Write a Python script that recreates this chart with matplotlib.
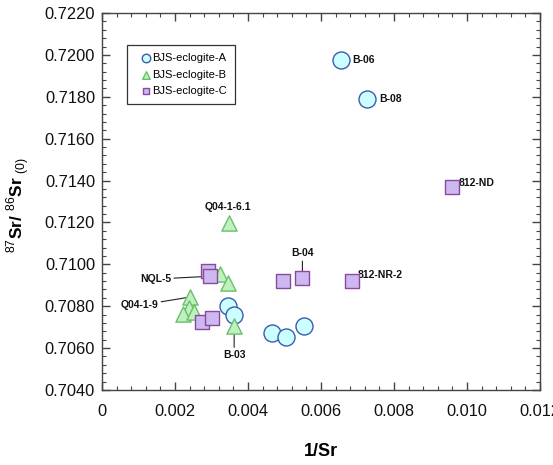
import matplotlib
matplotlib.use('Agg')
import matplotlib.pyplot as plt
from matplotlib.ticker import MultipleLocator, FuncFormatter

plt.rcParams['font.family'] = ['Liberation Sans', 'DejaVu Sans']
plt.rcParams['mathtext.fontset'] = 'custom'
plt.rcParams['mathtext.rm'] = 'Liberation Sans'
plt.rcParams['mathtext.bf'] = 'Liberation Sans:bold'

# 数据 (1/Sr, 87Sr/86Sr)
a_x = [0.00654, 0.00725, 0.00346, 0.00362, 0.00467, 0.00503, 0.00553]
a_y = [0.71976, 0.71788, 0.70801, 0.70758, 0.70674, 0.70655, 0.70707]
b_x = [0.00349, 0.00323, 0.00344, 0.00242, 0.00238, 0.00222, 0.00252, 0.00362]
b_y = [0.71199, 0.70954, 0.70912, 0.70844, 0.70792, 0.70763, 0.70772, 0.70706]
c_x = [0.00958, 0.00289, 0.00296, 0.00495, 0.00549, 0.00686, 0.00273, 0.00302]
c_y = [0.71368, 0.70968, 0.70943, 0.70920, 0.70933, 0.70920, 0.70723, 0.70742]
series_names = ['BJS-eclogite-A', 'BJS-eclogite-B', 'BJS-eclogite-C']

fig = plt.figure(figsize=(5.53, 4.65), dpi=100)
ax = fig.add_axes([0.1845, 0.1613, 0.792, 0.8107])

ax.scatter(a_x, a_y, s=150, marker='o', facecolor='#ccffff', edgecolor='#3a5bb0',
           linewidth=1.0, label=series_names[0], zorder=3)
ax.scatter(b_x, b_y, s=120, marker='^', facecolor='#bff0bf', edgecolor='#6abf6a',
           linewidth=1.0, label=series_names[1], zorder=4)
ax.scatter(c_x, c_y, s=90, marker='s', facecolor='#cdb8f2', edgecolor='#8a4a9a',
           linewidth=1.0, label=series_names[2], zorder=5)

# 样品标注
lab = dict(fontsize=7.5, fontweight='bold', color='#111111', va='center')
line = dict(arrowstyle='-', color='#222222', lw=0.8, shrinkA=0, shrinkB=0)
ax.annotate('B-06', (a_x[0], a_y[0]), xytext=(8.5, 0), textcoords='offset points', ha='left', **lab)
ax.annotate('B-08', (a_x[1], a_y[1]), xytext=(9, 0), textcoords='offset points', ha='left', **lab)
ax.annotate('812-ND', (c_x[0], c_y[0]), xytext=(5, 3), textcoords='offset points', ha='left', **lab)
ax.annotate('Q04-1-6.1', (b_x[0], b_y[0]), xytext=(-1, 11), textcoords='offset points', ha='center', **lab)
ax.annotate('812-NR-2', (c_x[5], c_y[5]), xytext=(4, 4.5), textcoords='offset points', ha='left', **lab)
ax.annotate('B-04', (c_x[4], c_y[4]), xytext=(0, 18), textcoords='offset points', ha='center',
            arrowprops=line, zorder=2, **lab)
ax.annotate('NQL-5', (c_x[2], c_y[2]), xytext=(-28, -2), textcoords='offset points', ha='right',
            arrowprops=line, zorder=2, **lab)
ax.annotate('Q04-1-9', (b_x[3], b_y[3]), xytext=(-23, -6), textcoords='offset points', ha='right',
            arrowprops=line, zorder=2, **lab)
ax.annotate('B-03', (b_x[7], b_y[7]), xytext=(0, -21), textcoords='offset points', ha='center',
            arrowprops=line, zorder=2, **lab)

ax.set_xlim(0, 0.012)
ax.set_ylim(0.704, 0.722)
ax.xaxis.set_major_locator(MultipleLocator(0.002))
ax.xaxis.set_minor_locator(MultipleLocator(0.0004))
ax.yaxis.set_major_locator(MultipleLocator(0.002))
ax.yaxis.set_minor_locator(MultipleLocator(0.0004))
ax.xaxis.set_major_formatter(FuncFormatter(lambda v, p: '0' if abs(v) < 1e-9 else '%.3f' % v))
ax.yaxis.set_major_formatter(FuncFormatter(lambda v, p: '%.4f' % v))
ax.tick_params(which='both', direction='in', top=True, right=True, colors='#444444',
               labelcolor='#111111', labelsize=11.8)
ax.tick_params(axis='x', pad=10)
ax.tick_params(axis='y', pad=5)
ax.tick_params(which='major', length=6, width=1)
ax.tick_params(which='minor', length=3, width=0.8)
for s in ax.spines.values():
    s.set_color('#444444')
    s.set_linewidth(1.0)

ax.set_xlabel('1/Sr', fontsize=13, fontweight='bold')
ax.xaxis.set_label_coords(0.5, -0.14)
ax.set_ylabel(r'$^{87}$Sr/ $^{86}$Sr $_{(0)}$', fontsize=12.5, fontweight='bold')
ax.yaxis.set_label_coords(-0.16, 0.49)

leg = ax.legend(loc='upper left', bbox_to_anchor=(0.057, 0.915), borderaxespad=0,
                fontsize=8, markerscale=0.5, handletextpad=-0.45, handlelength=2.0,
                labelspacing=0.6, fancybox=False, framealpha=1, borderpad=0.7)
leg.get_frame().set_edgecolor('#333333')
leg.get_frame().set_linewidth(0.9)

plt.savefig('out.png', dpi=100)
